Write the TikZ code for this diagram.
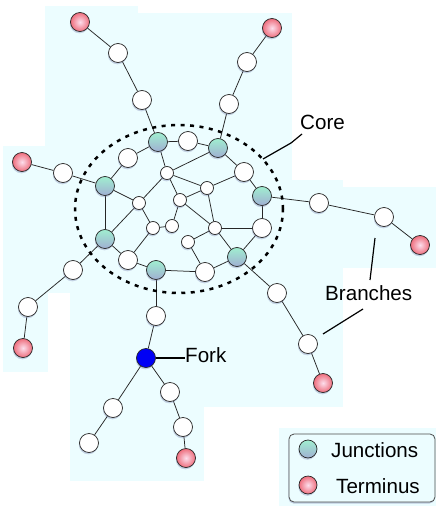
\documentclass[tikz,border=0pt]{standalone}
\usepackage{fontspec}
\setmainfont{Liberation Sans}
\usetikzlibrary{shadows}
\definecolor{bgc}{RGB}{236,253,255}
\definecolor{mintt}{RGB}{160,238,208}
\definecolor{mintm}{RGB}{150,222,200}
\definecolor{mintb}{RGB}{160,175,210}
\definecolor{pinkc}{RGB}{252,222,236}
\definecolor{redc}{RGB}{238,110,125}
\definecolor{forkblue}{RGB}{0,0,245}
\definecolor{shadc}{RGB}{120,130,175}
\newcommand{\lbfont}{\fontsize{20.6}{24}\selectfont}
\pgfdeclarelayer{back}
\pgfdeclarelayer{mid}
\pgfsetlayers{back,mid,main}
\begin{document}
\begin{tikzpicture}[x=1pt,y=-1pt,
  edge/.style={draw=black!85, line width=0.75pt},
  leader/.style={draw=black, line width=1.2pt},
  nd/.style={circle, draw=black!85, line width=0.7pt, inner sep=0pt, minimum size=19pt,
     drop shadow={shadow xshift=-0.6pt, shadow yshift=-1.8pt, fill=shadc, opacity=0.35}},
  wn/.style={nd, fill=white},
  sn/.style={nd, fill=white, minimum size=13pt},
  gn/.style={nd, top color=mintt, middle color=mintm, bottom color=mintb},
  rn/.style={nd, inner color=pinkc, outer color=redc},
  bn/.style={nd, fill=forkblue},
  lbl/.style={inner sep=0pt, anchor=base west, font=\lbfont},
  core/.style={draw=black, line width=2.5pt, dash pattern=on 4pt off 5.5pt},
]
\useasboundingbox (0,0) rectangle (436,506);
\begin{pgfonlayer}{back}
\fill[white] (0,0) rectangle (436,506);
\fill[bgc] (45,6) rectangle (138,200);
\fill[bgc] (138,13) rectangle (292,300);
\fill[bgc] (3,146) rectangle (48,372);
\fill[bgc] (48,146) rectangle (70,293);
\fill[bgc] (70,146) rectangle (204,481);
\fill[bgc] (204,180) rectangle (343,407);
\fill[bgc] (343,187) rectangle (436,268);
\fill[bgc] (279,428) rectangle (436,506);
\end{pgfonlayer}

% core nodes
\node[gn] (j1) at (158,142) {};
\node[wn] (c1) at (188,141) {};
\node[gn] (j2) at (218,148) {};
\node[wn] (c2) at (128,158) {};
\node[sn] (s1) at (167,173) {};
\node[wn] (c3) at (244,172) {};
\node[gn] (j3) at (105,186) {};
\node[sn] (s2) at (207,188) {};
\node[gn] (j4) at (262,196) {};
\node[sn] (s3) at (180,200) {};
\node[sn] (s4) at (139,203) {};
\node[wn] (c4) at (262,228) {};
\node[sn] (s5) at (153,228) {};
\node[sn] (s6) at (172,226) {};
\node[sn] (s7) at (215,228) {};
\node[gn] (j5) at (105,239) {};
\node[sn] (s8) at (188,242) {};
\node[gn] (j6) at (237,257) {};
\node[wn] (c5) at (128,260) {};
\node[gn] (j7) at (156,270) {};
\node[wn] (c6) at (205,272) {};

% branches
\node[wn] (a1) at (142,100) {};
\node[wn] (a2) at (118,53) {};
\node[rn] (at) at (80,22) {};
\node[wn] (b1) at (229,104) {};
\node[wn] (b2) at (247,62) {};
\node[rn] (bt) at (272,28) {};
\node[wn] (l1) at (63,173) {};
\node[rn] (lt) at (22,162) {};
\node[wn] (m1) at (73,270) {};
\node[wn] (m2) at (28,307) {};
\node[rn] (mt) at (23,348) {};
\node[wn] (f0) at (156,316) {};
\node[bn] (fork) at (146,358) {};
\node[wn] (f1) at (113,408) {};
\node[wn] (f2) at (89,443) {};
\node[wn] (f3) at (170,392) {};
\node[wn] (f4) at (183,427) {};
\node[rn] (ft) at (186,458) {};
\node[wn] (r1) at (319,203) {};
\node[wn] (r2) at (384,217) {};
\node[rn] (rt) at (420,245) {};
\node[wn] (d1) at (277,293) {};
\node[wn] (d2) at (308,344) {};
\node[rn] (dt) at (323,383) {};

\begin{pgfonlayer}{mid}
\foreach \u/\v in {j1/c1,c1/j2,j1/c2,c2/j3,j1/s1,s1/j2,j2/c3,c3/j4,j4/c4,c4/j6,j6/c6,c6/j7,j7/c5,c5/j5,j5/j3,
  j3/s4,s1/s4,s4/s5,j5/s4,s1/s3,s1/s2,s2/c3,s2/s3,s2/s7,s3/s6,s3/s7,s5/s6,s5/c5,s7/c4,s7/s8,s8/c6,s7/j6,
  j1/a1,a1/a2,a2/at,j2/b1,b1/b2,b2/bt,j3/l1,l1/lt,j5/m1,m1/m2,m2/mt,j7/f0,f0/fork,fork/f1,f1/f2,
  fork/f3,f3/f4,f4/ft,j4/r1,r1/r2,r2/rt,j6/d1,d1/d2,d2/dt}
  \draw[edge] (\u) -- (\v);
\draw[core] (179,209) ellipse [x radius=104pt, y radius=84pt];
\end{pgfonlayer}

% labels
\node[lbl] (coretxt) at (300,129) {Core};
\coordinate (coreA) at (302,134);
\coordinate (coreB) at (291,143);
\coordinate (coreC) at (263,159);
\draw[leader] (coreA) -- (coreB) -- (coreC);

\node[lbl] (brtxt) at (325,300) {Branches};
\coordinate (brA1) at (375,238);
\coordinate (brA2) at (370,280);
\coordinate (brB1) at (363,309);
\coordinate (brB2) at (323,334);
\draw[leader] (brA1) -- (brA2);
\draw[leader] (brB1) -- (brB2);

\node[lbl] (forktxt) at (185,362) {Fork};
\draw[leader] (fork.east) -- (forktxt.west |- fork.east);

% legend
\node[draw=black!70, line width=0.8pt, fill=bgc, rounded corners=5pt, minimum width=146pt, minimum height=68pt,
  drop shadow={shadow xshift=-0.5pt, shadow yshift=-1.5pt, fill=shadc, opacity=0.4}]
  (legend) at (362,468) {};
\node[gn, minimum size=18pt] (lg) at (308,449) {};
\node[rn, minimum size=18pt] (lr) at (308,485) {};
\node[lbl] (lgtxt) at (331,457) {Junctions};
\node[lbl] (lrtxt) at (336,493) {Terminus};
\end{tikzpicture}
\end{document}
